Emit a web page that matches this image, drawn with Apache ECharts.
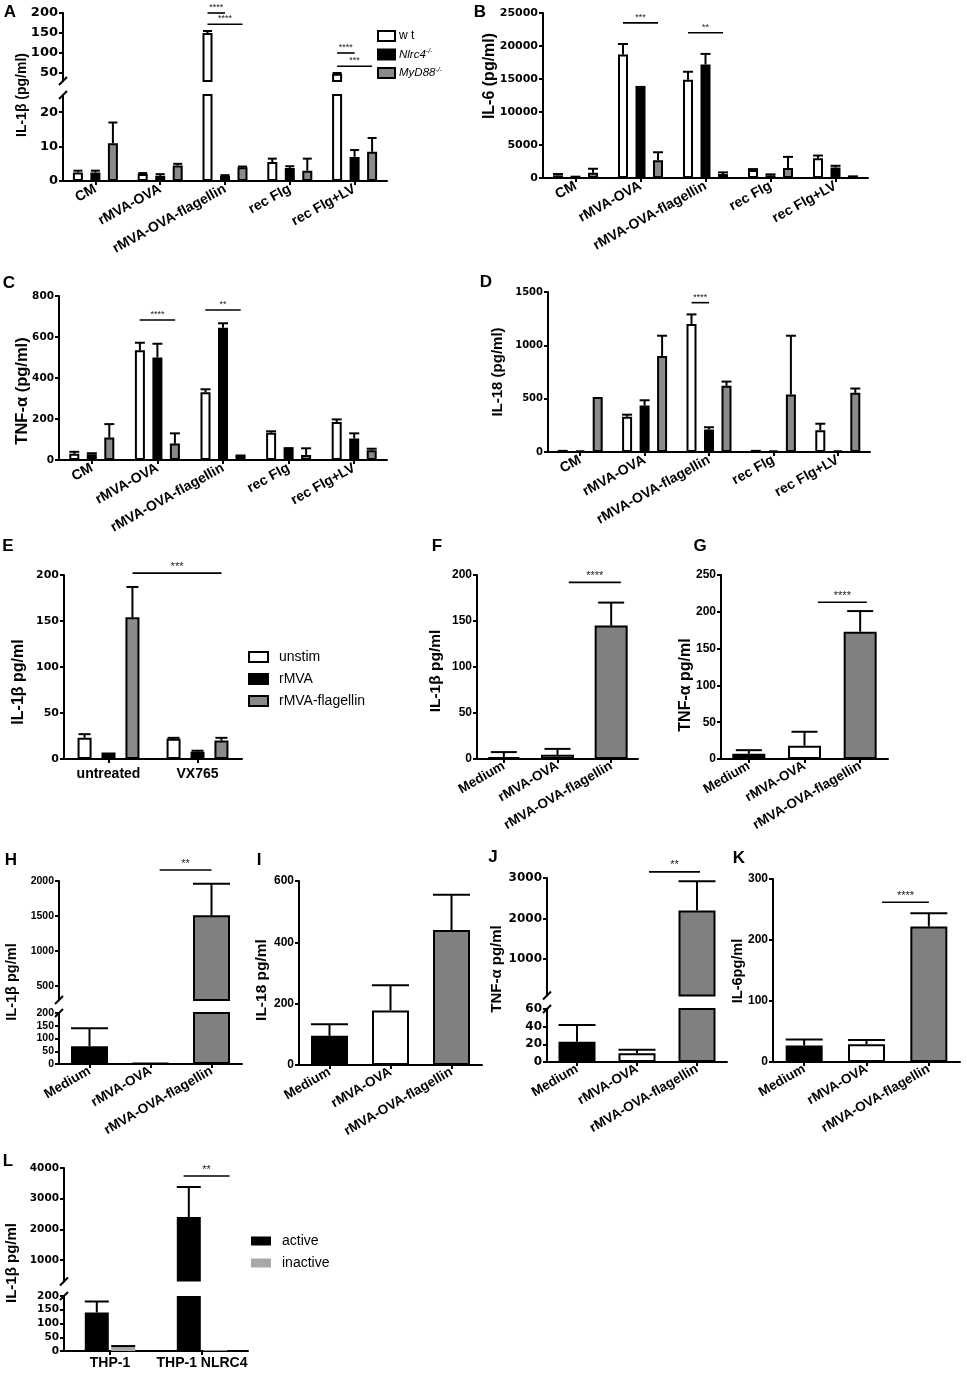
<!DOCTYPE html>
<html><head><meta charset="utf-8">
<script src="https://cdn.jsdelivr.net/npm/echarts@6/dist/echarts.min.js"></script>
<style>html,body{margin:0;padding:0;background:#fff}#c{width:967px;height:1376px}</style>
</head><body><div id="c"></div>
<script>
// ================= DATA =================
const catsMouse = ['CM', 'rMVA-OVA', 'rMVA-OVA-flagellin', 'rec Flg', 'rec Flg+LV'];
const strainNames = ['wt', 'Nlrc4', 'MyD88'];

// Panel A: IL-1beta (pg/ml)
const A_wt = [2.5, 2, 150, 5.5, 48];
const A_wtErr = [3, 2.3, 155, 6.5, 50];
const A_nlrc4 = [2.5, 1.5, 1.5, 3.8, 7];
const A_nlrc4Err = [3, 2, 1.7, 4.3, 9];
const A_myd88 = [11, 4.5, 4, 3, 8.5];
const A_myd88Err = [17, 5, 4.2, 6.5, 12.5];
const A_ticksUpper = [50, 100, 150, 200];
const A_ticksLower = [0, 10, 20];

// Panel B: IL-6 (pg/ml)
const B_wt = [400, 18700, 14900, 1200, 3000];
const B_wtErr = [600, 20300, 16100, 1350, 3400];
const B_nlrc4 = [150, 13700, 17200, 400, 1600];
const B_nlrc4Err = [200, 13800, 18800, 550, 1850];
const B_myd88 = [800, 2700, 600, 1500, 150];
const B_myd88Err = [1400, 3900, 850, 3200, 250];
const B_ticks = [0, 5000, 10000, 15000, 20000, 25000];

// Panel C: TNF-alpha (pg/ml)
const C_wt = [30, 535, 330, 133, 185];
const C_wtErr = [40, 572, 345, 140, 198];
const C_nlrc4 = [28, 500, 645, 55, 105];
const C_nlrc4Err = [33, 567, 667, 58, 130];
const C_myd88 = [110, 80, 20, 25, 48];
const C_myd88Err = [175, 130, 22, 57, 55];
const C_ticks = [0, 200, 400, 600, 800];

// Panel D: IL-18 (pg/ml)
const D_wt = [20, 330, 1200, 20, 205];
const D_wtErr = [null, 350, 1290, null, 265];
const D_nlrc4 = [15, 435, 210, 15, 15];
const D_nlrc4Err = [null, 485, 232, null, null];
const D_myd88 = [515, 900, 620, 540, 555];
const D_myd88Err = [null, 1090, 660, 1090, 595];
const D_ticks = [0, 500, 1000, 1500];

// Panel E
const catsE = ['untreated', 'VX765'];
const treatNames = ['unstim', 'rMVA', 'rMVA-flagellin'];
const E_unstim = [23, 22];
const E_unstimErr = [27, 23];
const E_rmva = [7, 8];
const E_rmvaErr = [null, 9];
const E_flag = [154, 20];
const E_flagErr = [187, 23];
const E_ticks = [0, 50, 100, 150, 200];

// Panels F-K
const catsHuman = ['Medium', 'rMVA-OVA', 'rMVA-OVA-flagellin'];
const F_vals = [2, 4.5, 145];
const F_err = [7.5, 11, 170];
const F_ticks = [0, 50, 100, 150, 200];
const G_vals = [7, 18, 173];
const G_err = [12, 37, 201];
const G_ticks = [0, 50, 100, 150, 200, 250];
const H_vals = [70, 3, 1510];
const H_err = [140, null, 1960];
const H_ticksUpper = [500, 1000, 1500, 2000];
const H_ticksLower = [0, 50, 100, 150, 200];
const I_vals = [95, 178, 440];
const I_err = [133, 260, 555];
const I_ticks = [0, 200, 400, 600];
const J_vals = [23, 10, 2200];
const J_err = [42, 14, 2920];
const J_ticksUpper = [1000, 2000, 3000];
const J_ticksLower = [0, 20, 40, 60];
const K_vals = [27, 29, 222];
const K_err = [37, 36, 244];
const K_ticks = [0, 100, 200, 300];

// Panel L
const catsL = ['THP-1', 'THP-1 NLRC4'];
const cellNames = ['active', 'inactive'];
const L_active = [140, 2400];
const L_activeErr = [180, 3380];
const L_inactive = [15, 3];
const L_inactiveErr = [18, null];
const L_ticksUpper = [1000, 2000, 3000, 4000];
const L_ticksLower = [0, 50, 100, 150, 200];

// significance bars: [x start (category units), x end (category units), y value]
const A_sig = [[1.73, 2.0, 200], [1.73, 2.27, 172], [3.73, 4.0, 100], [3.73, 4.27, 67]];
const A_sigText = ['****', '****', '****', '***'];
const B_sig = [[0.73, 1.27, 23500], [1.73, 2.27, 22000]];
const B_sigText = ['***', '**'];
const C_sig = [[0.73, 1.27, 683], [1.73, 2.27, 732]];
const C_sigText = ['****', '**'];
const D_sig = [[1.73, 2.0, 1400]];
const D_sigText = ['****'];
const E_sig = [[0.27, 1.27, 202]];
const E_sigText = ['***'];
const F_sig = [[1.21, 2.18, 192]];
const G_sig = [[1.24, 2.12, 213]];
const H_sig = [[1.15, 2.0, 2157]];
const J_sig = [[1.2, 2.05, 3150]];
const K_sig = [[1.25, 2.0, 262]];
const L_sig = [[0.8, 1.3, 3740]];

// ================= STYLE / LAYOUT =================
const FONT = 'Liberation Sans', DJ = 'DejaVu Sans';
const WHITE = '#ffffff', BLACK = '#000000', GRAY = '#8a8a8a', GRAY2 = '#808080', LGRAY = '#a8a8a8';
const humanColors = [BLACK, WHITE, GRAY2];

const option = {animation: false, backgroundColor: '#ffffff', tooltip: {show: false},
  grid: [], xAxis: [], yAxis: [], series: [], legend: [], graphic: []};

function addGrid(left, width, cats, g, xl) {
  const gi = option.grid.length;
  option.grid.push({left: left, top: g.top, width: width, height: g.height});
  const showX = !!g.showX;
  option.xAxis.push({type: 'category', gridIndex: gi, data: cats, boundaryGap: true,
    axisLine: {show: showX, onZero: false, lineStyle: {color: '#000', width: 2}},
    axisTick: {show: showX, alignWithLabel: true, length: 4, lineStyle: {color: '#000', width: 2}},
    axisLabel: {show: showX, interval: 0, rotate: xl.rotate, margin: xl.margin, color: '#000',
      fontWeight: 'bold', fontFamily: FONT, fontSize: xl.size},
    splitLine: {show: false}});
  option.yAxis.push({type: 'value', gridIndex: gi, min: g.min, max: g.max,
    axisLine: {show: true, onZero: false, lineStyle: {color: '#000', width: 2}},
    axisTick: {show: true, length: 4, customValues: g.ticks, lineStyle: {color: '#000', width: 2}},
    axisLabel: {color: '#000', fontWeight: 'bold', fontFamily: g.yFamily, fontSize: g.ySize, margin: 5,
      customValues: g.ticks, formatter: function (v) { return String(v); }},
    splitLine: {show: false}});
  return gi;
}

function errSeries(gi, values, errs, offset, capW) {
  const data = [];
  values.forEach((v, i) => { if (errs[i] != null) data.push([i, v, errs[i]]); });
  return {type: 'custom', xAxisIndex: gi, yAxisIndex: gi, data: data, z: 5, silent: true, clip: false,
    encode: {x: 0, y: 1},
    renderItem: function (params, api) {
      const cat = api.value(0), v = api.value(1), e = api.value(2);
      const p0 = api.coord([cat, v]), p1 = api.coord([cat, e]);
      const cs = params.coordSys;
      const top = cs.y, bot = cs.y + cs.height;
      let y0 = p0[1], y1 = p1[1];
      if (y1 > bot + 0.5 || y0 < top - 0.5) return null;
      y0 = Math.min(y0, bot);
      const capOn = y1 >= top - 0.5;
      y1 = Math.max(y1, top);
      const x = p0[0] + offset;
      const ch = [{type: 'line', shape: {x1: x, y1: y0, x2: x, y2: y1}, style: {stroke: '#000', lineWidth: 2}}];
      if (capOn) ch.push({type: 'line', shape: {x1: x - capW / 2, y1: y1, x2: x + capW / 2, y2: y1},
        style: {stroke: '#000', lineWidth: 2}});
      return {type: 'group', children: ch};
    }};
}

function sigSeries(gi, items, texts, fontSize) {
  return {type: 'custom', xAxisIndex: gi, yAxisIndex: gi, silent: true, clip: false, z: 6,
    data: items.map(d => [0, d[2], d[0], d[1]]), encode: {x: 0, y: 1},
    renderItem: function (params, api) {
      const p = api.coord([0, api.value(1)]);
      const band = api.size([1, 0])[0];
      const x1 = p[0] + api.value(2) * band, x2 = p[0] + api.value(3) * band;
      return {type: 'group', children: [
        {type: 'line', shape: {x1: x1, y1: p[1], x2: x2, y2: p[1]}, style: {stroke: '#000', lineWidth: 1.6}},
        {type: 'text', x: (x1 + x2) / 2, y: p[1] - 1,
          style: {text: texts[params.dataIndex], fill: '#222', font: fontSize + 'px ' + FONT,
            textAlign: 'center', textVerticalAlign: 'bottom', align: 'center', verticalAlign: 'bottom'}}
      ]};
    }};
}

function addBars(gi, series, barWidth, barGapPct, capW) {
  const n = series.length;
  const step = barWidth * (1 + barGapPct / 100);
  series.forEach((s, k) => {
    option.series.push({type: 'bar', name: s.name, xAxisIndex: gi, yAxisIndex: gi,
      barWidth: barWidth, barGap: barGapPct + '%', clip: true, z: 2,
      data: s.values.map((v, i) => s.itemColors ? {value: v, itemStyle: {color: s.itemColors[i]}} : v),
      itemStyle: {color: s.color, borderColor: '#000', borderWidth: s.bw == null ? 2 : s.bw},
      emphasis: {disabled: true}});
    option.series.push(errSeries(gi, s.values, s.errs, (k - (n - 1) / 2) * step, capW));
  });
}

function breakMark(x, y) {
  option.graphic.push({type: 'line', silent: true, shape: {x1: x - 4, y1: y + 4, x2: x + 4, y2: y - 4},
    style: {stroke: '#000', lineWidth: 2}});
}
function yTitle(text, x, y, size) {
  option.graphic.push({type: 'text', x: x, y: y, rotation: Math.PI / 2, silent: true,
    style: {text: text, fill: '#000', font: 'bold ' + size + 'px ' + FONT,
      textAlign: 'center', textVerticalAlign: 'middle', align: 'center', verticalAlign: 'middle'}});
}
function letter(text, x, y) {
  option.graphic.push({type: 'text', x: x, y: y, silent: true,
    style: {text: text, fill: '#000', font: 'bold 17px ' + FONT,
      textAlign: 'center', textVerticalAlign: 'middle', align: 'center', verticalAlign: 'middle'}});
}

const xlMouse = {rotate: 29, margin: 7, size: 14};
const xlHuman = {rotate: 30, margin: 6, size: 13.5};
const xlFlat = {rotate: 0, margin: 8, size: 14};

function mouseSeries(wt, wtE, nl, nlE, my, myE) {
  return [{name: strainNames[0], values: wt, errs: wtE, color: WHITE},
          {name: strainNames[1], values: nl, errs: nlE, color: BLACK},
          {name: strainNames[2], values: my, errs: myE, color: GRAY}];
}

// ---- Panel A (broken axis) ----
{
  const sA = mouseSeries(A_wt, A_wtErr, A_nlrc4, A_nlrc4Err, A_myd88, A_myd88Err);
  const gU = addGrid(63, 324, catsMouse, {top: 13, height: 68, min: 30, max: 200, ticks: A_ticksUpper, yFamily: DJ, ySize: 13}, xlMouse);
  const gL = addGrid(63, 324, catsMouse, {top: 95, height: 86, min: 0, max: 25, ticks: A_ticksLower, yFamily: DJ, ySize: 13, showX: true}, xlMouse);
  addBars(gU, sA, 10, 75, 9);
  addBars(gL, sA, 10, 75, 9);
  option.series.push(sigSeries(gU, A_sig, A_sigText, 9));
  breakMark(63, 81); breakMark(63, 95);
  yTitle('IL-1β (pg/ml)', 22, 95, 14); letter('A', 10, 12);
}
// ---- Panel B ----
{
  const g = addGrid(543, 325, catsMouse, {top: 13, height: 165, min: 0, max: 25000, ticks: B_ticks, yFamily: DJ, ySize: 11, showX: true}, xlMouse);
  addBars(g, mouseSeries(B_wt, B_wtErr, B_nlrc4, B_nlrc4Err, B_myd88, B_myd88Err), 10, 75, 10);
  option.series.push(sigSeries(g, B_sig, B_sigText, 9));
  yTitle('IL-6 (pg/ml)', 490, 76, 16); letter('B', 480, 12);
}
// ---- Panel C ----
{
  const g = addGrid(59, 328, catsMouse, {top: 296, height: 164, min: 0, max: 800, ticks: C_ticks, yFamily: DJ, ySize: 10.5, showX: true}, xlMouse);
  addBars(g, mouseSeries(C_wt, C_wtErr, C_nlrc4, C_nlrc4Err, C_myd88, C_myd88Err), 10, 75, 10);
  option.series.push(sigSeries(g, C_sig, C_sigText, 9));
  yTitle('TNF-α (pg/ml)', 22, 391, 16.5); letter('C', 9, 283);
}
// ---- Panel D ----
{
  const g = addGrid(548, 322, catsMouse, {top: 292, height: 160, min: 0, max: 1500, ticks: D_ticks, yFamily: DJ, ySize: 10, showX: true}, xlMouse);
  addBars(g, mouseSeries(D_wt, D_wtErr, D_nlrc4, D_nlrc4Err, D_myd88, D_myd88Err), 10, 75, 10);
  option.series.push(sigSeries(g, D_sig, D_sigText, 9));
  yTitle('IL-18 (pg/ml)', 498, 372, 15); letter('D', 486, 282);
}
// ---- Panel E ----
{
  const g = addGrid(64, 178, catsE, {top: 575, height: 184, min: 0, max: 200, ticks: E_ticks, yFamily: DJ, ySize: 11, showX: true}, xlFlat);
  addBars(g, [{name: treatNames[0], values: E_unstim, errs: E_unstimErr, color: WHITE},
              {name: treatNames[1], values: E_rmva, errs: E_rmvaErr, color: BLACK},
              {name: treatNames[2], values: E_flag, errs: E_flagErr, color: GRAY}], 14, 71, 12);
  option.series.push(sigSeries(g, E_sig, E_sigText, 11));
  yTitle('IL-1β pg/ml', 19, 682, 16); letter('E', 8, 546);
}
// ---- Panels F, G, I, K (single axis) ----
function humanPanel(left, width, top, height, max, ticks, vals, errs, barW, capW, yFamily, ySize, sig) {
  const g = addGrid(left, width, catsHuman, {top: top, height: height, min: 0, max: max, ticks: ticks, yFamily: yFamily, ySize: ySize, showX: true}, xlHuman);
  addBars(g, [{name: 'sample', values: vals, errs: errs, color: GRAY2, itemColors: humanColors}], barW, 30, capW);
  if (sig) option.series.push(sigSeries(g, sig, ['****'], 11));
  return g;
}
humanPanel(477, 161, 575, 184, 200, F_ticks, F_vals, F_err, 33, 26, FONT, 12, F_sig);
yTitle('IL-1β pg/ml', 436, 671, 15.5); letter('F', 437, 546);
humanPanel(721, 167, 575, 184, 250, G_ticks, G_vals, G_err, 33, 26, FONT, 12, G_sig);
yTitle('TNF-α pg/ml', 686, 685, 16); letter('G', 700, 546);
humanPanel(299, 183, 881, 184, 600, I_ticks, I_vals, I_err, 37, 37, FONT, 12, null);
yTitle('IL-18 pg/ml', 262, 980, 15.5); letter('I', 259, 860);
humanPanel(773, 187, 879, 183, 300, K_ticks, K_vals, K_err, 37, 37, FONT, 12, K_sig);
yTitle('IL-6pg/ml', 738, 971, 14.5); letter('K', 739, 858);

// ---- Panel H (broken) ----
{
  const s = [{name: 'sample', values: H_vals, errs: H_err, color: GRAY2, itemColors: humanColors}];
  const gU = addGrid(59, 183, catsHuman, {top: 881, height: 119, min: 300, max: 2000, ticks: H_ticksUpper, yFamily: FONT, ySize: 10.5}, xlHuman);
  const gL = addGrid(59, 183, catsHuman, {top: 1013, height: 51, min: 0, max: 200, ticks: H_ticksLower, yFamily: FONT, ySize: 10.5, showX: true}, xlHuman);
  addBars(gU, s, 37, 30, 37); addBars(gL, s, 37, 30, 37);
  option.series.push(sigSeries(gU, H_sig, ['**'], 11));
  breakMark(59, 1000); breakMark(59, 1013);
  yTitle('IL-1β pg/ml', 12, 982, 14.5); letter('H', 11, 860);
}
// ---- Panel J (broken) ----
{
  const s = [{name: 'sample', values: J_vals, errs: J_err, color: GRAY2, itemColors: humanColors}];
  const gU = addGrid(547, 180, catsHuman, {top: 878, height: 117.5, min: 100, max: 3000, ticks: J_ticksUpper, yFamily: DJ, ySize: 12}, xlHuman);
  const gL = addGrid(547, 180, catsHuman, {top: 1009, height: 53, min: 0, max: 60, ticks: J_ticksLower, yFamily: DJ, ySize: 12, showX: true}, xlHuman);
  addBars(gU, s, 37, 30, 37); addBars(gL, s, 37, 30, 37);
  option.series.push(sigSeries(gU, J_sig, ['**'], 11));
  breakMark(547, 995.5); breakMark(547, 1009);
  yTitle('TNF-α pg/ml', 497, 969, 15); letter('J', 493, 857);
}
// ---- Panel L (broken) ----
{
  const s = [{name: cellNames[0], values: L_active, errs: L_activeErr, color: BLACK, bw: 0},
             {name: cellNames[1], values: L_inactive, errs: L_inactiveErr, color: LGRAY, bw: 0}];
  const gU = addGrid(64, 184, catsL, {top: 1168, height: 113.5, min: 300, max: 4000, ticks: L_ticksUpper, yFamily: DJ, ySize: 10.5}, {rotate: 0, margin: 5, size: 14});
  const gL = addGrid(64, 184, catsL, {top: 1296, height: 55, min: 0, max: 200, ticks: L_ticksLower, yFamily: DJ, ySize: 10.5, showX: true}, {rotate: 0, margin: 5, size: 14});
  addBars(gU, s, 24, 10, 24); addBars(gL, s, 24, 10, 24);
  option.series.push(sigSeries(gU, L_sig, ['**'], 11));
  breakMark(64, 1281.5); breakMark(64, 1296);
  yTitle('IL-1β pg/ml', 12, 1263, 15); letter('L', 8, 1161);
}

// ---- Legends ----
option.legend.push({data: strainNames, left: 372, top: 25, orient: 'vertical', icon: 'rect',
  itemWidth: 17, itemHeight: 10, itemGap: 6, selectedMode: false,
  itemStyle: {borderColor: '#000', borderWidth: 2},
  formatter: function (name) { return name === 'wt' ? '{n|w t}' : '{i|' + name + '}{s|-/-}'; },
  textStyle: {color: '#000', fontFamily: FONT, fontSize: 11, padding: [0, 0, 0, -1],
    rich: {n: {fontSize: 12, fontFamily: FONT, color: '#000'},
           i: {fontSize: 11.5, fontStyle: 'italic', fontFamily: FONT, color: '#000'},
           s: {fontSize: 7, fontStyle: 'italic', fontFamily: FONT, color: '#000', verticalAlign: 'top', padding: [0, 0, 6, 0]}}}});
option.legend.push({data: treatNames, left: 243, top: 645, orient: 'vertical', icon: 'rect',
  itemWidth: 19, itemHeight: 10, itemGap: 8, selectedMode: false,
  itemStyle: {borderColor: '#000', borderWidth: 2},
  textStyle: {color: '#000', fontFamily: FONT, fontSize: 14, padding: [0, 0, 0, 6]}});
option.legend.push({data: cellNames, left: 246, top: 1229, orient: 'vertical', icon: 'rect',
  itemWidth: 20, itemHeight: 9, itemGap: 8, selectedMode: false,
  itemStyle: {borderWidth: 0},
  textStyle: {color: '#000', fontFamily: FONT, fontSize: 14, padding: [0, 0, 0, 6]}});

const chart = echarts.init(document.getElementById('c'), null, {renderer: 'canvas'});
chart.setOption(option);
</script></body></html>
